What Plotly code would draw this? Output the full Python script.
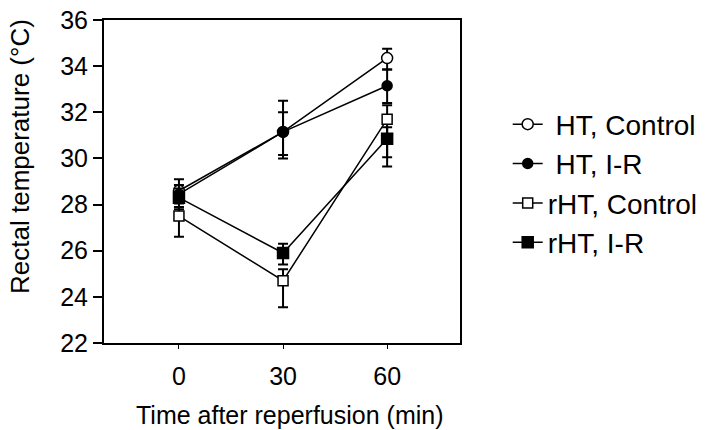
import plotly.graph_objects as go

times = [0, 30, 60]
tick_labels = ["0", "30", "60"]
y_ticks = [22, 24, 26, 28, 30, 32, 34, 36]

names = ["\u00a0HT, Control", "\u00a0HT, I-R", "rHT, Control", "rHT, I-R"]
ht_control = [28.6, 31.15, 34.35]
ht_control_up = [0.5, 1.35, 0.4]
ht_control_dn = [0.5, 1.0, 0.5]
ht_ir = [28.45, 31.15, 33.15]
ht_ir_up = [0.4, 0.85, 0.7]
ht_ir_dn = [0.4, 1.15, 0.75]
rht_control = [27.5, 24.7, 31.7]
rht_control_up = [0.4, 0.5, 0.6]
rht_control_dn = [0.9, 1.15, 1.65]
rht_ir = [28.3, 25.9, 30.85]
rht_ir_up = [0.4, 0.4, 0.5]
rht_ir_dn = [0.5, 0.5, 1.2]

x_title = "Time after reperfusion (min)"
y_title = "Rectal temperature (°C)"

series = [
    (names[0], ht_control, ht_control_up, ht_control_dn, "circle", 11, "white"),
    (names[1], ht_ir, ht_ir_up, ht_ir_dn, "circle", 10, "black"),
    (names[2], rht_control, rht_control_up, rht_control_dn, "square", 10, "white"),
    (names[3], rht_ir, rht_ir_up, rht_ir_dn, "square", 11, "black"),
]

fig = go.Figure()
for name, ys, up, dn, sym, sz, fill in series:
    fig.add_trace(go.Scatter(
        x=times, y=ys, name=name, mode="lines+markers",
        line=dict(color="black", width=1.5),
        marker=dict(symbol=sym, size=sz, color=fill,
                    line=dict(color="black", width=1.5)),
        error_y=dict(type="data", symmetric=False, array=up, arrayminus=dn,
                     color="black", thickness=2, width=5),
    ))

font_family = "Arial, Liberation Sans, sans-serif"
fig.update_layout(
    width=720, height=430,
    margin=dict(l=104, r=260, t=20, b=87, autoexpand=False),
    paper_bgcolor="white", plot_bgcolor="white",
    font=dict(family=font_family, color="black"),
    legend=dict(x=1.134, y=0.754, xanchor="left", yanchor="top",
                font=dict(size=28, family=font_family, color="black"),
                bgcolor="rgba(0,0,0,0)", tracegroupgap=0),
    showlegend=True,
    annotations=[
        dict(text=x_title, xref="paper", yref="paper", x=0.522, y=-0.222,
             xanchor="center", yanchor="middle", showarrow=False,
             font=dict(size=25, family=font_family, color="black")),
        dict(text=y_title, xref="paper", yref="paper", x=-0.236, y=0.579,
             xanchor="center", yanchor="middle", showarrow=False, textangle=-90,
             font=dict(size=26, family=font_family, color="black")),
    ],
)
fig.update_xaxes(
    range=[-21.6, 81], tickvals=times, ticktext=tick_labels, automargin=False,
    showgrid=False, zeroline=False, showline=True, linecolor="black", linewidth=2,
    mirror=True, ticks="outside", ticklen=4, tickwidth=1, tickcolor="black",
    ticklabelstandoff=6, tickfont=dict(size=25),
)
fig.update_yaxes(
    range=[22, 36], tickvals=y_ticks, automargin=False, ticklabeloverflow="allow",
    showgrid=False, zeroline=False, showline=True, linecolor="black", linewidth=2,
    mirror=True, ticks="outside", ticklen=9, tickwidth=2, tickcolor="black",
    tickfont=dict(size=25),
)

fig.write_html("out.html", config={"displayModeBar": False},
               post_script="document.body.style.margin='0';")
